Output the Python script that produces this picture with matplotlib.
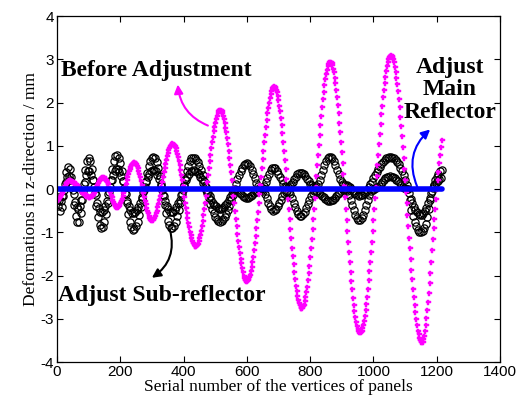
import matplotlib
matplotlib.use("Agg")
import matplotlib.pyplot as plt

# serial numbers of the vertices (every 5th vertex, plus the ones in between for the second trace)
vertex_ids = list(range(0, 1216, 5))
vertex_mid = [v + 2.5 for v in vertex_ids[:-1]]

# Before Adjustment (magenta), mm
before_adj = [
    -0.25, -0.23, -0.18, -0.10, -0.01, 0.08, 0.15, 0.19, 0.20, 0.19, 0.17, 0.14, 0.11, 0.07, 0.02, -0.02, -0.06, -0.10, -0.14, -0.16,
    -0.18, -0.18, -0.16, -0.11, -0.04, 0.05, 0.14, 0.21, 0.26, 0.28, 0.26, 0.20, 0.11, -0.01, -0.13, -0.25, -0.34, -0.40, -0.42, -0.40,
    -0.33, -0.23, -0.10, 0.05, 0.21, 0.35, 0.47, 0.56, 0.61, 0.62, 0.57, 0.48, 0.35, 0.19, 0.01, -0.18, -0.35, -0.50, -0.62, -0.70,
    -0.72, -0.69, -0.62, -0.50, -0.34, -0.15, 0.06, 0.28, 0.49, 0.68, 0.84, 0.96, 1.03, 1.06, 1.03, 0.95, 0.82, 0.65, 0.44, 0.20,
    -0.05, -0.31, -0.56, -0.78, -0.98, -1.14, -1.25, -1.31, -1.32, -1.26, -1.14, -0.96, -0.73, -0.46, -0.16, 0.16, 0.48, 0.79, 1.08, 1.34,
    1.54, 1.70, 1.80, 1.83, 1.80, 1.70, 1.53, 1.31, 1.04, 0.73, 0.39, 0.03, -0.33, -0.69, -1.03, -1.34, -1.61, -1.83, -2.00, -2.10,
    -2.13, -2.09, -1.98, -1.80, -1.56, -1.25, -0.91, -0.53, -0.12, 0.29, 0.70, 1.08, 1.44, 1.75, 2.00, 2.20, 2.33, 2.38, 2.35, 2.25,
    2.06, 1.80, 1.48, 1.10, 0.68, 0.23, -0.23, -0.69, -1.14, -1.55, -1.91, -2.23, -2.47, -2.64, -2.74, -2.74, -2.67, -2.50, -2.26, -1.95,
    -1.58, -1.15, -0.69, -0.20, 0.30, 0.79, 1.26, 1.69, 2.08, 2.41, 2.66, 2.84, 2.93, 2.94, 2.87, 2.70, 2.46, 2.14, 1.76, 1.32,
    0.85, 0.34, -0.19, -0.71, -1.22, -1.69, -2.13, -2.51, -2.83, -3.07, -3.24, -3.31, -3.31, -3.22, -3.05, -2.80, -2.49, -2.11, -1.69, -1.22,
    -0.72, -0.21, 0.30, 0.80, 1.28, 1.73, 2.12, 2.46, 2.74, 2.94, 3.06, 3.10, 3.06, 2.93, 2.72, 2.44, 2.09, 1.68, 1.22, 0.72,
    0.20, -0.33, -0.86, -1.37, -1.86, -2.30, -2.69, -3.01, -3.27, -3.44, -3.54, -3.53, -3.40, -3.15, -2.80, -2.40, -1.95, -1.40, -0.90, -0.45,
    0.00, 0.40, 0.80, 1.13,
]
before_adj_mid = [
    -0.24, -0.21, -0.14, -0.06, 0.04, 0.12, 0.17, 0.20, 0.20, 0.18, 0.16, 0.13, 0.09, 0.05, 0.00, -0.04, -0.08, -0.12, -0.15, -0.17,
    -0.18, -0.17, -0.14, -0.08, 0.01, 0.10, 0.18, 0.24, 0.27, 0.27, 0.23, 0.16, 0.05, -0.07, -0.19, -0.30, -0.37, -0.41, -0.41, -0.37,
    -0.28, -0.17, -0.03, 0.13, 0.28, 0.41, 0.52, 0.59, 0.62, 0.60, 0.53, 0.42, 0.27, 0.10, -0.09, -0.27, -0.43, -0.56, -0.66, -0.71,
    -0.71, -0.66, -0.56, -0.42, -0.25, -0.05, 0.17, 0.39, 0.59, 0.76, 0.90, 1.00, 1.05, 1.05, 0.99, 0.89, 0.74, 0.55, 0.32, 0.08,
    -0.18, -0.44, -0.67, -0.88, -1.06, -1.20, -1.28, -1.32, -1.29, -1.20, -1.05, -0.85, -0.60, -0.31, 0.00, 0.32, 0.64, 0.94, 1.21, 1.44,
    1.62, 1.75, 1.82, 1.82, 1.75, 1.62, 1.42, 1.18, 0.89, 0.56, 0.21, -0.15, -0.51, -0.86, -1.19, -1.48, -1.72, -1.92, -2.05, -2.12,
    -2.11, -2.04, -1.89, -1.68, -1.41, -1.08, -0.72, -0.33, 0.09, 0.50, 0.89, 1.26, 1.60, 1.88, 2.10, 2.27, 2.36, 2.37, 2.30, 2.16,
    1.93, 1.64, 1.29, 0.89, 0.46, 0.00, -0.46, -0.92, -1.35, -1.73, -2.07, -2.35, -2.56, -2.69, -2.74, -2.71, -2.59, -2.38, -2.11, -1.77,
    -1.37, -0.92, -0.45, 0.05, 0.55, 1.03, 1.48, 1.89, 2.25, 2.54, 2.75, 2.89, 2.94, 2.91, 2.79, 2.58, 2.30, 1.95, 1.54, 1.09,
    0.60, 0.08, -0.45, -0.97, -1.46, -1.91, -2.32, -2.67, -2.95, -3.16, -3.28, -3.31, -3.27, -3.14, -2.93, -2.65, -2.30, -1.90, -1.46, -0.97,
    -0.47, 0.05, 0.55, 1.04, 1.51, 1.93, 2.29, 2.60, 2.84, 3.00, 3.08, 3.08, 3.00, 2.83, 2.58, 2.27, 1.89, 1.45, 0.97, 0.46,
    -0.07, -0.60, -1.12, -1.62, -2.08, -2.50, -2.85, -3.14, -3.36, -3.49, -3.54, -3.47, -3.28, -2.98, -2.60, -2.18, -1.68, -1.15, -0.68, -0.23,
    0.20, 0.60, 0.97,
]

# Adjust Sub-reflector (black circles): outer trace at vertex_ids, inner trace at vertex_mid
sub_outer = [
    -0.25, -0.38, -0.50, -0.41, -0.17, 0.13, 0.39, 0.52, 0.47, 0.27, -0.03, -0.36, -0.62, -0.77, -0.75, -0.56, -0.25, 0.12, 0.45, 0.66,
    0.72, 0.64, 0.46, 0.21, -0.09, -0.39, -0.64, -0.82, -0.90, -0.87, -0.76, -0.57, -0.33, -0.06, 0.22, 0.46, 0.65, 0.76, 0.79, 0.73,
    0.61, 0.42, 0.18, -0.08, -0.33, -0.57, -0.76, -0.88, -0.94, -0.92, -0.86, -0.75, -0.60, -0.42, -0.22, -0.01, 0.19, 0.38, 0.53, 0.65,
    0.73, 0.75, 0.72, 0.63, 0.48, 0.30, 0.08, -0.14, -0.37, -0.56, -0.73, -0.84, -0.90, -0.89, -0.85, -0.76, -0.63, -0.48, -0.31, -0.12,
    0.07, 0.24, 0.41, 0.54, 0.64, 0.71, 0.73, 0.72, 0.68, 0.62, 0.54, 0.44, 0.32, 0.19, 0.06, -0.08, -0.21, -0.34, -0.46, -0.56,
    -0.64, -0.70, -0.74, -0.75, -0.74, -0.70, -0.65, -0.57, -0.48, -0.38, -0.26, -0.14, -0.01, 0.11, 0.23, 0.33, 0.42, 0.50, 0.55, 0.59,
    0.60, 0.58, 0.53, 0.45, 0.35, 0.25, 0.15, 0.07, 0.02, 0.00, 0.02, 0.08, 0.16, 0.26, 0.36, 0.44, 0.49, 0.50, 0.48, 0.43,
    0.36, 0.28, 0.20, 0.13, 0.08, 0.05, 0.05, 0.08, 0.12, 0.17, 0.23, 0.29, 0.34, 0.37, 0.38, 0.37, 0.34, 0.30, 0.24, 0.19,
    0.13, 0.09, 0.06, 0.05, 0.07, 0.13, 0.21, 0.32, 0.44, 0.55, 0.64, 0.71, 0.75, 0.74, 0.71, 0.64, 0.55, 0.45, 0.34, 0.24,
    0.17, 0.12, 0.10, 0.09, 0.07, 0.04, 0.00, -0.05, -0.09, -0.12, -0.14, -0.15, -0.14, -0.13, -0.10, -0.06, -0.01, 0.04, 0.11, 0.17,
    0.25, 0.32, 0.39, 0.46, 0.52, 0.58, 0.63, 0.68, 0.71, 0.73, 0.74, 0.74, 0.73, 0.71, 0.68, 0.63, 0.57, 0.50, 0.42, 0.32,
    0.21, 0.10, 0.00, -0.25, -0.48, -0.62, -0.75, -0.86, -0.94, -0.99, -1.00, -0.97, -0.90, -0.80, -0.64, -0.45, -0.25, -0.05, 0.10, 0.20,
    0.28, 0.35, 0.42, 0.45,
]
sub_inner = [
    -0.19, -0.26, -0.27, -0.17, -0.01, 0.16, 0.27, 0.30, 0.22, 0.07, -0.12, -0.29, -0.42, -0.46, -0.39, -0.24, -0.04, 0.17, 0.33, 0.41,
    0.41, 0.33, 0.20, 0.04, -0.14, -0.31, -0.44, -0.52, -0.53, -0.49, -0.40, -0.27, -0.12, 0.05, 0.20, 0.33, 0.42, 0.47, 0.46, 0.40,
    0.31, 0.18, 0.03, -0.12, -0.27, -0.40, -0.49, -0.55, -0.56, -0.53, -0.48, -0.41, -0.31, -0.19, -0.07, 0.05, 0.17, 0.27, 0.35, 0.41,
    0.44, 0.44, 0.41, 0.33, 0.23, 0.11, -0.02, -0.15, -0.28, -0.39, -0.47, -0.52, -0.54, -0.52, -0.48, -0.42, -0.33, -0.24, -0.13, -0.02,
    0.09, 0.20, 0.29, 0.35, 0.41, 0.43, 0.44, 0.42, 0.39, 0.35, 0.29, 0.23, 0.15, 0.08, -0.01, -0.09, -0.17, -0.24, -0.31, -0.36,
    -0.40, -0.43, -0.45, -0.45, -0.43, -0.41, -0.37, -0.32, -0.26, -0.19, -0.12, -0.05, 0.00, -0.02, -0.04, -0.08, -0.12, -0.16, -0.18, -0.20,
    -0.20, -0.19, -0.16, -0.13, -0.10, -0.07, -0.04, -0.01, 0.00, -0.01, -0.04, -0.12, -0.21, -0.31, -0.40, -0.47, -0.50, -0.49, -0.46, -0.40,
    -0.32, -0.24, -0.16, -0.10, -0.06, -0.05, -0.07, -0.12, -0.21, -0.31, -0.42, -0.51, -0.58, -0.62, -0.62, -0.58, -0.52, -0.43, -0.34, -0.24,
    -0.15, -0.09, -0.05, -0.05, -0.06, -0.09, -0.12, -0.15, -0.19, -0.22, -0.25, -0.27, -0.27, -0.26, -0.24, -0.21, -0.17, -0.12, -0.08, -0.04,
    -0.02, 0.00, -0.01, -0.05, -0.13, -0.24, -0.36, -0.48, -0.59, -0.67, -0.72, -0.72, -0.67, -0.59, -0.48, -0.36, -0.24, -0.13, -0.05, -0.01,
    0.00, 0.02, 0.04, 0.08, 0.12, 0.16, 0.21, 0.25, 0.28, 0.29, 0.30, 0.29, 0.28, 0.25, 0.22, 0.18, 0.14, 0.10, 0.06, 0.03,
    0.01, 0.00, -0.08, -0.22, -0.33, -0.41, -0.48, -0.54, -0.58, -0.60, -0.59, -0.56, -0.51, -0.43, -0.33, -0.21, -0.09, 0.02, 0.09, 0.14,
    0.19, 0.23, 0.26,
]

# Adjust Main Reflector (blue) - flat at zero
main_adj = [0.0] * len(vertex_ids)

plt.rcParams['axes.unicode_minus'] = False
fig = plt.figure(figsize=(5.22, 4.05), dpi=100)
ax = fig.add_axes([0.109, 0.106, 0.849, 0.854])

circ = dict(linestyle='none', marker='o', ms=5.2, mfc='none', mec='black', mew=0.9)
ax.plot(vertex_ids, sub_outer, **circ)
ax.plot(vertex_mid, sub_inner, **circ)
star = dict(linestyle='none', marker='P', ms=3.6, color='#ff00ff', mec='#ff00ff', mew=0.3)
ax.plot(vertex_ids, before_adj, **star)
ax.plot(vertex_mid, before_adj_mid, **star)
ax.plot(vertex_ids, main_adj, color='#0000ff', lw=4, solid_capstyle='round')

ax.set_xlim(0, 1400)
ax.set_ylim(-4, 4)
ax.set_xticks(range(0, 1401, 200))
ax.set_yticks(range(-4, 5))
ax.tick_params(direction='in', top=True, right=True, length=4, width=0.8, labelsize=11, pad=2)
for lab in ax.get_xticklabels() + ax.get_yticklabels():
    lab.set_fontfamily('Liberation Sans')
for s in ax.spines.values():
    s.set_linewidth(0.9)

ax.set_xlabel('Serial number of the vertices of panels', fontfamily='Liberation Serif', fontsize=12.5, labelpad=0)
ax.set_ylabel('Deformations in z-direction / mm', fontfamily='Liberation Serif', fontsize=12.5, labelpad=1)

bold = dict(fontfamily='Liberation Serif', fontweight='bold', fontsize=17, ha='center', va='center')
ax.text(313, 2.74, 'Before Adjustment', **bold)
ax.text(331, -2.46, 'Adjust Sub-reflector', **bold)
ax.text(1242, 2.30, 'Adjust\nMain\nReflector', linespacing=1.1, **bold)

ax.annotate('', xy=(382, 2.42), xytext=(477, 1.47),
            arrowprops=dict(arrowstyle='-|>', color='#ff00ff', lw=1.5, mutation_scale=13,
                            connectionstyle='arc3,rad=-0.3', shrinkA=0, shrinkB=0))
ax.annotate('', xy=(300, -2.05), xytext=(357, -0.94),
            arrowprops=dict(arrowstyle='-|>', color='black', lw=1.5, mutation_scale=13,
                            connectionstyle='arc3,rad=-0.35', shrinkA=0, shrinkB=0))
ax.annotate('', xy=(1179, 1.38), xytext=(1138, 0.06),
            arrowprops=dict(arrowstyle='-|>', color='#0000ff', lw=1.5, mutation_scale=13,
                            connectionstyle='arc3,rad=-0.35', shrinkA=0, shrinkB=0))

fig.savefig('out.png', dpi=100)
